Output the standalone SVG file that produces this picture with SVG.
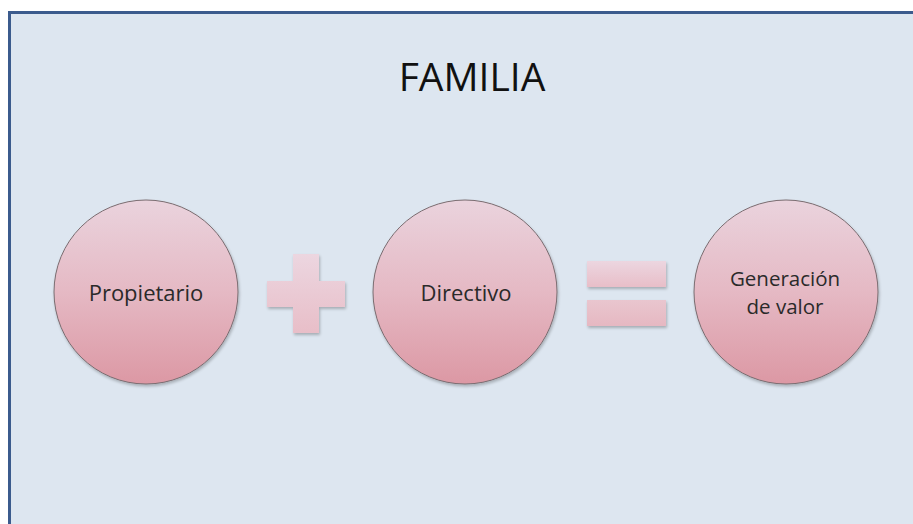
<svg xmlns="http://www.w3.org/2000/svg" width="913" height="524" viewBox="0 0 913 524">
  <defs>
    <linearGradient id="circleFill" x1="0" y1="0" x2="0" y2="1">
      <stop offset="0" stop-color="#ead3dd"/>
      <stop offset="0.5" stop-color="#e5b9c4"/>
      <stop offset="1" stop-color="#dc98a4"/>
    </linearGradient>
    <linearGradient id="opFill" x1="0" y1="0" x2="0" y2="1">
      <stop offset="0" stop-color="#ecd6e0"/>
      <stop offset="1" stop-color="#e8bec8"/>
    </linearGradient>
    <linearGradient id="opFillLow" x1="0" y1="0" x2="0" y2="1">
      <stop offset="0" stop-color="#e9c6cf"/>
      <stop offset="1" stop-color="#e6b8c2"/>
    </linearGradient>
    <filter id="softShadow" x="-20%" y="-20%" width="140%" height="140%">
      <feGaussianBlur in="SourceAlpha" stdDeviation="1.5"/>
      <feOffset dx="1" dy="2" result="b"/>
      <feComponentTransfer><feFuncA type="linear" slope="0.25"/></feComponentTransfer>
      <feMerge><feMergeNode/><feMergeNode in="SourceGraphic"/></feMerge>
    </filter>
  </defs>
  <style>
    .frame { fill: #dde6f0; stroke: #3b5b8d; stroke-width: 3; }
    .node { fill: url(#circleFill); stroke: #7a6c70; stroke-width: 1; filter: url(#softShadow); }
    .op { fill: url(#opFill); filter: url(#softShadow); }
    .label { font-family: "Open Sans", "Noto Sans", sans-serif; font-size: 22px; fill: #2a2a2a; text-anchor: middle; }
    .label2 { font-size: 20.5px; }
    .title { font-family: "Open Sans", "Noto Sans", sans-serif; font-size: 39px; fill: #111; text-anchor: middle; }
  </style>

  <rect width="913" height="524" fill="#ffffff"/>
  <!-- slide frame -->
  <rect class="frame" x="9.5" y="12.5" width="920" height="530"/>

  <text class="title" x="472" y="91">FAMILIA</text>

  <g id="connectors"/>

  <g id="propietario">
    <circle class="node" cx="146" cy="292" r="92"/>
    <text class="label" x="146" y="301">Propietario</text>
  </g>

  <g id="plus">
    <path class="op" d="M293 254 H319 V281 H345 V307 H319 V333 H293 V307 H267 V281 H293 Z"/>
  </g>

  <g id="directivo">
    <circle class="node" cx="465" cy="292" r="92"/>
    <text class="label" x="466" y="301">Directivo</text>
  </g>

  <g id="equals">
    <rect class="op" x="587" y="261" width="79" height="26"/>
    <rect class="op" x="587" y="300" width="79" height="26" fill="url(#opFillLow)" style="fill:url(#opFillLow)"/>
  </g>

  <g id="generacion">
    <circle class="node" cx="786" cy="292" r="92"/>
    <text class="label label2" x="785" y="286">Generación</text>
    <text class="label label2" x="785" y="314">de valor</text>
  </g>
</svg>
